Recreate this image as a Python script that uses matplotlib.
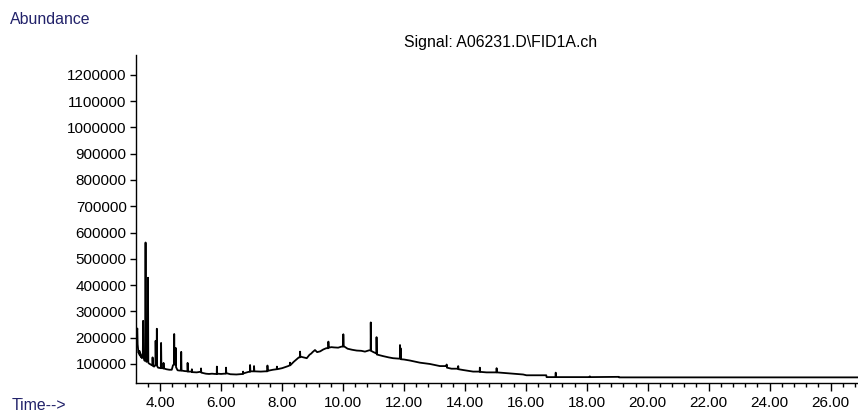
import matplotlib.pyplot as plt
from matplotlib.ticker import MultipleLocator, FixedLocator, FormatStrFormatter

plt.rcParams['font.family'] = ['Liberation Sans', 'DejaVu Sans']

# FID trace: retention time (min) and abundance
rt = [
    3.22, 3.24, 3.25, 3.26, 3.27, 3.28, 3.29, 3.30, 3.31, 3.32,
    3.33, 3.35, 3.37, 3.38, 3.40, 3.42, 3.43, 3.44, 3.45, 3.47,
    3.49, 3.51, 3.52, 3.53, 3.55, 3.57, 3.59, 3.60, 3.61, 3.63,
    3.66, 3.70, 3.73, 3.745, 3.75, 3.76, 3.80, 3.84, 3.845, 3.85,
    3.86, 3.88, 3.89, 3.90, 3.93, 3.97, 4.02, 4.03, 4.04, 4.08,
    4.105, 4.11, 4.12, 4.20, 4.30, 4.38, 4.42, 4.45, 4.46, 4.47,
    4.50, 4.51, 4.52, 4.57, 4.63, 4.68, 4.69, 4.70, 4.80, 4.88,
    4.895, 4.90, 4.91, 5.00, 5.035, 5.04, 5.05, 5.20, 5.30, 5.335,
    5.34, 5.35, 5.50, 5.60, 5.70, 5.80, 5.855, 5.86, 5.87, 6.00,
    6.10, 6.155, 6.16, 6.17, 6.30, 6.50, 6.70, 6.715, 6.72, 6.73,
    6.90, 6.945, 6.95, 6.96, 7.05, 7.075, 7.08, 7.09, 7.30, 7.45,
    7.515, 7.52, 7.53, 7.70, 7.825, 7.83, 7.84, 8.00, 8.10, 8.20,
    8.255, 8.26, 8.27, 8.38, 8.45, 8.55, 8.585, 8.59, 8.60, 8.70,
    8.81, 8.90, 8.96, 9.00, 9.08, 9.15, 9.25, 9.35, 9.45, 9.515,
    9.52, 9.53, 9.62, 9.70, 9.84, 9.95, 10.005, 10.01, 10.02, 10.15,
    10.30, 10.45, 10.60, 10.72, 10.86, 10.905, 10.91, 10.92, 11.00, 11.09,
    11.095, 11.10, 11.11, 11.31, 11.50, 11.64, 11.85, 11.865, 11.87, 11.88,
    11.89, 11.90, 12.00, 12.20, 12.52, 12.85, 13.18, 13.395, 13.40, 13.41,
    13.56, 13.775, 13.78, 13.79, 13.94, 14.27, 14.485, 14.49, 14.50, 14.71,
    15.035, 15.04, 15.05, 15.48, 15.91, 16.02, 16.67, 16.68, 16.97, 16.98,
    16.99, 18.09, 18.10, 18.11, 18.90, 19.05, 19.06, 21.00, 26.90,
]
abundance = [
    210000, 225000, 235000, 175000, 160000, 150000, 142000, 148000, 138000, 150000,
    132000, 140000, 126000, 132000, 122000, 128000, 140000, 264000, 130000, 118000,
    112000, 125000, 562000, 115000, 108000, 112000, 115000, 428000, 105000, 102000,
    100000, 97000, 95000, 95000, 125000, 93000, 90000, 95000, 95000, 188000,
    100000, 98000, 234000, 92000, 86000, 85000, 84000, 180000, 84000, 84000,
    83000, 104000, 83000, 80000, 78000, 78000, 95000, 98000, 214000, 100000,
    96000, 161000, 88000, 76000, 75000, 75000, 146000, 75000, 73000, 72000,
    72000, 104000, 71000, 71000, 71000, 80000, 69000, 68000, 70000, 70000,
    83000, 67000, 63000, 62000, 63000, 62000, 62000, 90000, 63000, 62000,
    63000, 63000, 86000, 65000, 61000, 60000, 62000, 62000, 71000, 64000,
    70000, 70000, 96000, 72000, 72000, 72000, 92000, 72000, 71000, 72000,
    72000, 94000, 74000, 78000, 80000, 90000, 80000, 84000, 88000, 92000,
    95000, 105000, 95000, 108000, 115000, 125000, 125000, 147000, 128000, 125000,
    122000, 135000, 140000, 145000, 153000, 145000, 148000, 155000, 160000, 160000,
    185000, 162000, 164000, 163000, 162000, 166000, 166000, 213000, 168000, 158000,
    154000, 151000, 150000, 147000, 152000, 152000, 258000, 150000, 145000, 140000,
    140000, 202000, 136000, 130000, 125000, 122000, 120000, 120000, 172000, 122000,
    160000, 118000, 117000, 113000, 105000, 100000, 92000, 92000, 98000, 86000,
    82000, 82000, 92000, 80000, 77000, 71000, 71000, 86000, 70000, 68000,
    68000, 84000, 68000, 64000, 60000, 57000, 57000, 50000, 50000, 67000,
    50000, 50000, 53000, 50000, 51000, 51000, 49000, 49000, 49000,
]

y_ticks = list(range(100000, 1200001, 100000))
x_major = [4, 6, 8, 10, 12, 14, 16, 18, 20, 22, 24, 26]

navy = '#22226a'

fig = plt.figure(figsize=(8.58, 4.12), dpi=100)
ax = fig.add_axes([0.159, 0.07, 0.841, 0.797])

ax.plot(rt, abundance, color='black', linewidth=1.3)

ax.set_xlim(3.22, 26.9)
ax.set_ylim(27000, 1276000)

ax.spines['top'].set_visible(False)
ax.spines['right'].set_visible(False)
for side in ('left', 'bottom'):
    ax.spines[side].set_linewidth(1.0)

ax.yaxis.set_major_locator(FixedLocator(y_ticks))
ax.yaxis.set_major_formatter(FormatStrFormatter('%d'))
ax.xaxis.set_major_locator(FixedLocator(x_major))
ax.xaxis.set_major_formatter(FormatStrFormatter('%.2f'))
ax.xaxis.set_minor_locator(MultipleLocator(0.4))

ax.tick_params(axis='y', direction='out', length=4, width=1, pad=3, labelsize=11)
ax.tick_params(axis='x', which='major', direction='out', length=6, width=1, pad=3, labelsize=11)
ax.tick_params(axis='x', which='minor', direction='out', length=3, width=1)

fig.text(10 / 858, 1 - 19 / 412, 'Abundance', color=navy, fontsize=11.4, ha='left', va='center')
fig.text(12 / 858, 1 - 405 / 412, 'Time-->', color=navy, fontsize=11.4, ha='left', va='center')
fig.text(501 / 858, 1 - 43 / 412, 'Signal: A06231.D\\FID1A.ch', color='black',
         fontsize=11.4, ha='center', va='center')

fig.savefig('out.png', dpi=100)
